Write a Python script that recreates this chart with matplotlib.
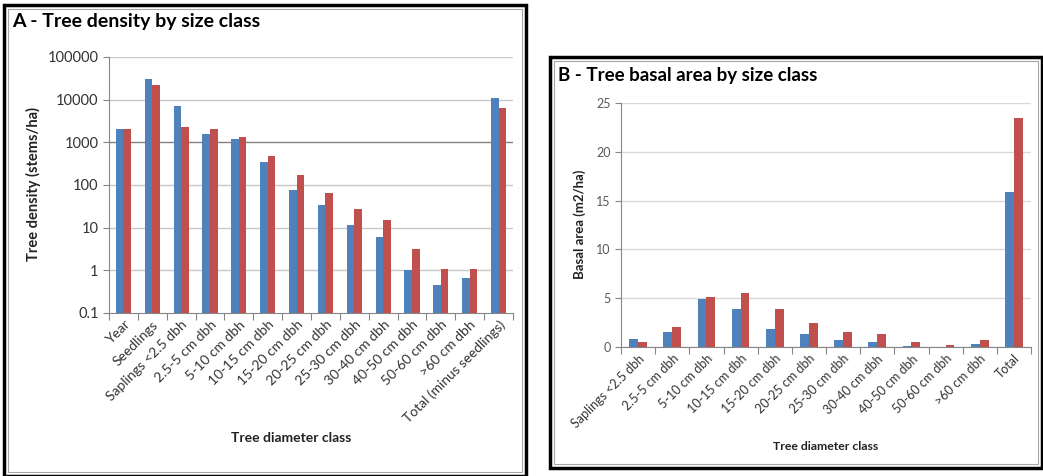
import matplotlib.pyplot as plt
import numpy as np
from matplotlib.patches import Rectangle
from matplotlib.ticker import FixedLocator, FixedFormatter

plt.rcParams['font.family'] = ['Lato', 'DejaVu Sans']

# Panel A: tree density (stems/ha), log scale
dens_classes = ['Year', 'Seedlings', 'Saplings <2.5 dbh', '2.5-5 cm dbh', '5-10 cm dbh',
                '10-15 cm dbh', '15-20 cm dbh', '20-25 cm dbh', '25-30 cm dbh',
                '30-40 cm dbh', '40-50 cm dbh', '50-60 cm dbh', '>60 cm dbh',
                'Total (minus seedlings)']
dens_a = [2009, 31000, 7200, 1600, 1200, 350, 76, 34, 11.5, 6, 1.0, 0.45, 0.66, 10800]
dens_b = [2010, 22000, 2300, 2000, 1300, 490, 170, 64, 27, 15, 3.2, 1.1, 1.1, 6300]
dens_ticks = [0.1, 1, 10, 100, 1000, 10000, 100000]
dens_tick_labels = ['0.1', '1', '10', '100', '1000', '10000', '100000']

# Panel B: basal area (m2/ha)
ba_classes = ['Saplings <2.5 dbh', '2.5-5 cm dbh', '5-10 cm dbh', '10-15 cm dbh',
              '15-20 cm dbh', '20-25 cm dbh', '25-30 cm dbh', '30-40 cm dbh',
              '40-50 cm dbh', '50-60 cm dbh', '>60 cm dbh', 'Total']
ba_a = [0.85, 1.5, 4.9, 3.9, 1.8, 1.3, 0.7, 0.55, 0.15, 0.05, 0.35, 15.9]
ba_b = [0.5, 2.0, 5.1, 5.5, 3.9, 2.5, 1.5, 1.35, 0.5, 0.25, 0.75, 23.5]

BLUE = '#4f81bd'
RED = '#c0504d'
AXIS = '#868686'
TXT = '#333333'

W, H = 1043, 476
fig = plt.figure(figsize=(W / 100, H / 100), dpi=100)


def fx(px):
    return px / W


def fy(py):
    return 1 - py / H


def frame(x0, y0, x1, y1):
    fig.patches.append(Rectangle((fx(x0), fy(y1)), fx(x1 - x0), (y1 - y0) / H,
                                 transform=fig.transFigure, fill=False,
                                 edgecolor='black', linewidth=2.5, zorder=5))
    fig.patches.append(Rectangle((fx(x0 + 4), fy(y1 - 4)), fx(x1 - x0 - 8), (y1 - y0 - 8) / H,
                                 transform=fig.transFigure, fill=False,
                                 edgecolor='#a6a6a6', linewidth=0.8, zorder=5))


def style_axes(ax, n, tick_fs, label_list):
    x = np.arange(n)
    ax.set_xlim(-0.5, n - 0.5)
    for s in ['top', 'right']:
        ax.spines[s].set_visible(False)
    ax.spines['left'].set_color(AXIS)
    ax.spines['bottom'].set_color(AXIS)
    ax.set_xticks(np.arange(n + 1) - 0.5)
    ax.set_xticklabels([])
    ax.set_xticks(x, minor=True)
    ax.set_xticklabels(label_list, minor=True, rotation=45, ha='right',
                       rotation_mode='anchor', fontsize=tick_fs, color=TXT)
    ax.tick_params(axis='x', which='major', length=5, color=AXIS)
    ax.tick_params(axis='x', which='minor', length=0, pad=4)
    ax.tick_params(axis='y', length=4, color=AXIS, labelcolor=TXT)
    ax.set_axisbelow(True)


w = 0.26

# ---- A ----
frame(4, 5, 526, 476)
fig.text(fx(12), fy(22), 'A - Tree density by size class', fontsize=14,
         fontweight='bold', va='center', ha='left')
axA = fig.add_axes([fx(109), fy(313), fx(513 - 109), (313 - 57) / H])
xa = np.arange(len(dens_classes))
axA.set_yscale('log')
axA.bar(xa - w / 2, dens_a, w, color=BLUE, zorder=3)
axA.bar(xa + w / 2, dens_b, w, color=RED, zorder=3)
axA.set_ylim(0.1, 100000)
axA.yaxis.set_major_locator(FixedLocator(dens_ticks))
axA.yaxis.set_major_formatter(FixedFormatter(dens_tick_labels))
axA.yaxis.set_minor_locator(FixedLocator([]))
for v in dens_ticks[1:]:
    axA.axhline(v, color='#808080' if v == 1000 else '#c8c8c8', linewidth=1, zorder=1)
style_axes(axA, len(dens_classes), 10, dens_classes)
axA.tick_params(axis='y', labelsize=10.5)
fig.text(fx(33), fy(184), 'Tree density (stems/ha)', rotation=90, fontsize=10.5,
         fontweight='bold', ha='center', va='center', color='#222222')
fig.text(fx(291), fy(438), 'Tree diameter class', fontsize=10, fontweight='bold',
         ha='center', va='center', color='#222222')

# ---- B ----
frame(550, 57, 1042, 468)
fig.text(fx(558), fy(75), 'B - Tree basal area by size class', fontsize=13.5,
         fontweight='bold', va='center', ha='left')
axB = fig.add_axes([fx(621), fy(347), fx(1031 - 621), (347 - 103) / H])
xb = np.arange(len(ba_classes))
axB.bar(xb - w / 2, ba_a, w, color=BLUE, zorder=3)
axB.bar(xb + w / 2, ba_b, w, color=RED, zorder=3)
axB.set_ylim(0, 25)
axB.set_yticks([0, 5, 10, 15, 20, 25])
axB.yaxis.grid(True, color='#d9d9d9', linewidth=1)
style_axes(axB, len(ba_classes), 9, ba_classes)
axB.tick_params(axis='y', labelsize=9, labelcolor='#595959')
fig.text(fx(580), fy(224), 'Basal area (m2/ha)', rotation=90, fontsize=9.5,
         fontweight='bold', ha='center', va='center', color='#222222')
fig.text(fx(826), fy(447), 'Tree diameter class', fontsize=8.8, fontweight='bold',
         ha='center', va='center', color='#222222')

fig.savefig('out.png', dpi=100)
